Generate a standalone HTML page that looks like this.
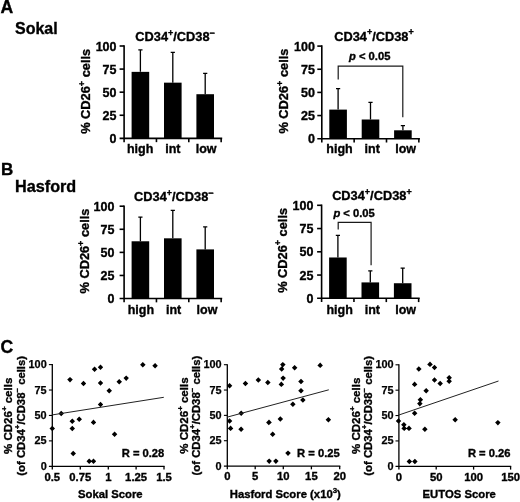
<!DOCTYPE html>
<html><head><meta charset="utf-8"><title>Figure</title>
<style>
html,body{margin:0;padding:0;background:#fff;}
svg{display:block;filter:blur(0.35px);}
text{font-family:"Liberation Sans", sans-serif;font-weight:bold;fill:#000;stroke:#000;stroke-width:0.35px;}
.t17{font-size:17px;}
.t176{font-size:17.6px;}
.t162{font-size:16.2px;}
.t16{font-size:16px;}
.t125{font-size:12.5px;}
.t128{font-size:12.8px;}
.t115{font-size:11.5px;}
.t112{font-size:11.2px;}
.t113{font-size:11.3px;}
.t109{font-size:10.9px;stroke-width:0.25px;}
</style></head>
<body>
<svg width="520" height="502" viewBox="0 0 520 502">
<rect width="520" height="502" fill="#fff"/>
<text x="0.5" y="13.4" class="t176">A</text>
<text x="15" y="33.8" class="t16">Sokal</text>
<text x="1" y="175.4" class="t17">B</text>
<text x="15.1" y="191.8" class="t162">Hasford</text>
<text x="0.5" y="353.2" class="t176">C</text>
<path d="M124.1,45.2 V142.15 M119.6,138.35 H222.2" stroke="#000" stroke-width="1.6" fill="none"/>
<path d="M119.6,46.00 H124.1" stroke="#000" stroke-width="1.6"/>
<text x="116.50" y="50.50" text-anchor="end" class="t125">100</text>
<path d="M119.6,69.09 H124.1" stroke="#000" stroke-width="1.6"/>
<text x="116.50" y="73.59" text-anchor="end" class="t125">75</text>
<path d="M119.6,92.17 H124.1" stroke="#000" stroke-width="1.6"/>
<text x="116.50" y="96.67" text-anchor="end" class="t125">50</text>
<path d="M119.6,115.26 H124.1" stroke="#000" stroke-width="1.6"/>
<text x="116.50" y="119.76" text-anchor="end" class="t125">25</text>
<text x="116.50" y="142.85" text-anchor="end" class="t125">0</text>
<path d="M156.45,138.35 V142.15" stroke="#000" stroke-width="1.6"/>
<path d="M188.80,138.35 V142.15" stroke="#000" stroke-width="1.6"/>
<path d="M221.15,138.35 V142.15" stroke="#000" stroke-width="1.6"/>
<rect x="131.60" y="71.86" width="17.6" height="66.49" fill="#000"/>
<path d="M140.40,71.86 V49.88 M138.30,49.88 H142.50" stroke="#000" stroke-width="1.3" fill="none"/>
<text x="140.10" y="153.05" text-anchor="middle" class="t125">high</text>
<rect x="164.00" y="82.66" width="17.6" height="55.69" fill="#000"/>
<path d="M172.80,82.66 V52.47 M170.70,52.47 H174.90" stroke="#000" stroke-width="1.3" fill="none"/>
<text x="172.80" y="153.05" text-anchor="middle" class="t125">int</text>
<rect x="196.40" y="94.21" width="17.6" height="44.14" fill="#000"/>
<path d="M205.20,94.21 V73.43 M203.10,73.43 H207.30" stroke="#000" stroke-width="1.3" fill="none"/>
<text x="206.20" y="153.05" text-anchor="middle" class="t125">low</text>
<text x="175.1" y="40.90" text-anchor="middle" class="t128">CD34<tspan dy="-5.4" font-size="9">+</tspan><tspan dy="5.4">/CD38</tspan><tspan dy="-5.4" font-size="9">−</tspan></text>
<text transform="translate(90.39999999999999,91.35) rotate(-90)" text-anchor="middle" class="t128">% CD26<tspan dy="-5.4" font-size="9">+</tspan><tspan dy="5.4"> cells</tspan></text>
<path d="M321.8,45.29999999999998 V142.5 M317.3,138.7 H419.90000000000003" stroke="#000" stroke-width="1.6" fill="none"/>
<path d="M317.3,46.10 H321.8" stroke="#000" stroke-width="1.6"/>
<text x="314.90" y="50.60" text-anchor="end" class="t125">100</text>
<path d="M317.3,69.25 H321.8" stroke="#000" stroke-width="1.6"/>
<text x="314.90" y="73.75" text-anchor="end" class="t125">75</text>
<path d="M317.3,92.40 H321.8" stroke="#000" stroke-width="1.6"/>
<text x="314.90" y="96.90" text-anchor="end" class="t125">50</text>
<path d="M317.3,115.55 H321.8" stroke="#000" stroke-width="1.6"/>
<text x="314.90" y="120.05" text-anchor="end" class="t125">25</text>
<text x="314.90" y="143.20" text-anchor="end" class="t125">0</text>
<path d="M354.15,138.7 V142.5" stroke="#000" stroke-width="1.6"/>
<path d="M386.50,138.7 V142.5" stroke="#000" stroke-width="1.6"/>
<path d="M418.85,138.7 V142.5" stroke="#000" stroke-width="1.6"/>
<rect x="329.30" y="109.60" width="17.6" height="29.10" fill="#000"/>
<path d="M338.10,109.60 V88.60 M336.00,88.60 H340.20" stroke="#000" stroke-width="1.3" fill="none"/>
<text x="339.50" y="153.40" text-anchor="middle" class="t125">high</text>
<rect x="361.70" y="119.50" width="17.6" height="19.20" fill="#000"/>
<path d="M370.50,119.50 V102.30 M368.40,102.30 H372.60" stroke="#000" stroke-width="1.3" fill="none"/>
<text x="372.20" y="153.40" text-anchor="middle" class="t125">int</text>
<rect x="394.10" y="130.30" width="17.6" height="8.40" fill="#000"/>
<path d="M402.90,130.30 V125.60 M400.80,125.60 H405.00" stroke="#000" stroke-width="1.3" fill="none"/>
<text x="405.60" y="153.40" text-anchor="middle" class="t125">low</text>
<text x="374.0" y="40.75" text-anchor="middle" class="t128">CD34<tspan dy="-5.4" font-size="9">+</tspan><tspan dy="5.4">/CD38</tspan><tspan dy="-5.4" font-size="9">+</tspan></text>
<text transform="translate(288.1,91.1) rotate(-90)" text-anchor="middle" class="t128">% CD26<tspan dy="-5.4" font-size="9">+</tspan><tspan dy="5.4"> cells</tspan></text>
<path d="M338.2,79.5 V66.1 H402.8 V117.2" stroke="#1a1a1a" stroke-width="1.2" fill="none"/>
<text x="349" y="60.4" class="t112"><tspan font-style="italic">p</tspan> &lt; 0.05</text>
<path d="M124.1,205.4 V302.35 M119.6,298.55 H222.2" stroke="#000" stroke-width="1.6" fill="none"/>
<path d="M119.6,206.20 H124.1" stroke="#000" stroke-width="1.6"/>
<text x="114.40" y="210.70" text-anchor="end" class="t125">100</text>
<path d="M119.6,229.29 H124.1" stroke="#000" stroke-width="1.6"/>
<text x="114.40" y="233.79" text-anchor="end" class="t125">75</text>
<path d="M119.6,252.38 H124.1" stroke="#000" stroke-width="1.6"/>
<text x="114.40" y="256.88" text-anchor="end" class="t125">50</text>
<path d="M119.6,275.46 H124.1" stroke="#000" stroke-width="1.6"/>
<text x="114.40" y="279.96" text-anchor="end" class="t125">25</text>
<text x="114.40" y="303.05" text-anchor="end" class="t125">0</text>
<path d="M156.45,298.55 V302.35" stroke="#000" stroke-width="1.6"/>
<path d="M188.80,298.55 V302.35" stroke="#000" stroke-width="1.6"/>
<path d="M221.15,298.55 V302.35" stroke="#000" stroke-width="1.6"/>
<rect x="131.60" y="241.28" width="17.6" height="57.27" fill="#000"/>
<path d="M140.40,241.28 V217.08 M138.30,217.08 H142.50" stroke="#000" stroke-width="1.3" fill="none"/>
<text x="140.90" y="313.55" text-anchor="middle" class="t125">high</text>
<rect x="164.00" y="238.32" width="17.6" height="60.23" fill="#000"/>
<path d="M172.80,238.32 V210.34 M170.70,210.34 H174.90" stroke="#000" stroke-width="1.3" fill="none"/>
<text x="173.60" y="313.55" text-anchor="middle" class="t125">int</text>
<rect x="196.40" y="249.40" width="17.6" height="49.15" fill="#000"/>
<path d="M205.20,249.40 V226.78 M203.10,226.78 H207.30" stroke="#000" stroke-width="1.3" fill="none"/>
<text x="207.00" y="313.55" text-anchor="middle" class="t125">low</text>
<text x="173.79999999999998" y="201.20" text-anchor="middle" class="t128">CD34<tspan dy="-5.4" font-size="9">+</tspan><tspan dy="5.4">/CD38</tspan><tspan dy="-5.4" font-size="9">−</tspan></text>
<text transform="translate(89.1,251.05) rotate(-90)" text-anchor="middle" class="t128">% CD26<tspan dy="-5.4" font-size="9">+</tspan><tspan dy="5.4"> cells</tspan></text>
<path d="M321.6,204.5 V302.1 M317.1,298.3 H419.70000000000005" stroke="#000" stroke-width="1.6" fill="none"/>
<path d="M317.1,205.30 H321.6" stroke="#000" stroke-width="1.6"/>
<text x="313.40" y="209.80" text-anchor="end" class="t125">100</text>
<path d="M317.1,228.55 H321.6" stroke="#000" stroke-width="1.6"/>
<text x="313.40" y="233.05" text-anchor="end" class="t125">75</text>
<path d="M317.1,251.80 H321.6" stroke="#000" stroke-width="1.6"/>
<text x="313.40" y="256.30" text-anchor="end" class="t125">50</text>
<path d="M317.1,275.05 H321.6" stroke="#000" stroke-width="1.6"/>
<text x="313.40" y="279.55" text-anchor="end" class="t125">25</text>
<text x="313.40" y="302.80" text-anchor="end" class="t125">0</text>
<path d="M353.95,298.3 V302.1" stroke="#000" stroke-width="1.6"/>
<path d="M386.30,298.3 V302.1" stroke="#000" stroke-width="1.6"/>
<path d="M418.65,298.3 V302.1" stroke="#000" stroke-width="1.6"/>
<rect x="329.10" y="257.48" width="17.6" height="40.82" fill="#000"/>
<path d="M337.90,257.48 V235.31 M335.80,235.31 H340.00" stroke="#000" stroke-width="1.3" fill="none"/>
<text x="339.60" y="313.60" text-anchor="middle" class="t125">high</text>
<rect x="361.50" y="282.41" width="17.6" height="15.89" fill="#000"/>
<path d="M370.30,282.41 V270.87 M368.20,270.87 H372.40" stroke="#000" stroke-width="1.3" fill="none"/>
<text x="372.30" y="313.60" text-anchor="middle" class="t125">int</text>
<rect x="393.90" y="283.24" width="17.6" height="15.06" fill="#000"/>
<path d="M402.70,283.24 V268.10 M400.60,268.10 H404.80" stroke="#000" stroke-width="1.3" fill="none"/>
<text x="405.70" y="313.60" text-anchor="middle" class="t125">low</text>
<text x="371.90000000000003" y="200.35" text-anchor="middle" class="t128">CD34<tspan dy="-5.4" font-size="9">+</tspan><tspan dy="5.4">/CD38</tspan><tspan dy="-5.4" font-size="9">+</tspan></text>
<text transform="translate(286.8,250.4) rotate(-90)" text-anchor="middle" class="t128">% CD26<tspan dy="-5.4" font-size="9">+</tspan><tspan dy="5.4"> cells</tspan></text>
<path d="M338.2,229.5 V222.3 H371.1 V265.3" stroke="#1a1a1a" stroke-width="1.2" fill="none"/>
<text x="333.4" y="216.8" class="t112"><tspan font-style="italic">p</tspan> &lt; 0.05</text>
<path d="M52.3,364.10 V469.6 M48.9,466.3 H164.6" stroke="#000" stroke-width="1.3" fill="none"/>
<path d="M48.9,364.60 H52.3" stroke="#000" stroke-width="1.1"/>
<text x="46.70" y="368.10" text-anchor="end" class="t109">100</text>
<path d="M48.9,390.03 H52.3" stroke="#000" stroke-width="1.1"/>
<text x="46.70" y="393.53" text-anchor="end" class="t109">75</text>
<path d="M48.9,415.45 H52.3" stroke="#000" stroke-width="1.1"/>
<text x="46.70" y="418.95" text-anchor="end" class="t109">50</text>
<path d="M48.9,440.88 H52.3" stroke="#000" stroke-width="1.1"/>
<text x="46.70" y="444.38" text-anchor="end" class="t109">25</text>
<text x="46.70" y="469.80" text-anchor="end" class="t109">0</text>
<text x="52.30" y="480.60" text-anchor="middle" class="t113">0.5</text>
<path d="M80.30,466.3 V469.6" stroke="#000" stroke-width="1.3"/>
<text x="80.30" y="480.60" text-anchor="middle" class="t113">0.75</text>
<path d="M108.30,466.3 V469.6" stroke="#000" stroke-width="1.3"/>
<text x="108.30" y="480.60" text-anchor="middle" class="t113">1</text>
<path d="M136.10,466.3 V469.6" stroke="#000" stroke-width="1.3"/>
<text x="136.10" y="480.60" text-anchor="middle" class="t113">1.25</text>
<path d="M164.00,466.3 V469.6" stroke="#000" stroke-width="1.3"/>
<text x="164.00" y="480.60" text-anchor="middle" class="t113">1.5</text>
<path d="M67.2,379.6 L70.0,376.9 L72.8,379.6 L70.0,382.4Z M80.8,383.5 L83.5,380.8 L86.2,383.5 L83.5,386.2Z M91.8,369.2 L94.6,366.4 L97.3,369.2 L94.6,371.9Z M97.8,367.3 L100.5,364.6 L103.2,367.3 L100.5,370.1Z M97.8,383.0 L100.5,380.2 L103.2,383.0 L100.5,385.8Z M116.5,381.8 L119.2,379.1 L122.0,381.8 L119.2,384.6Z M106.5,390.8 L109.2,388.1 L112.0,390.8 L109.2,393.6Z M97.8,404.5 L100.5,401.8 L103.2,404.5 L100.5,407.2Z M58.5,413.5 L61.2,410.8 L64.0,413.5 L61.2,416.2Z M69.5,421.2 L72.3,418.4 L75.0,421.2 L72.3,423.9Z M76.5,419.3 L79.2,416.6 L82.0,419.3 L79.2,422.1Z M90.8,422.4 L93.5,419.6 L96.2,422.4 L93.5,425.1Z M49.5,428.5 L52.3,425.8 L55.0,428.5 L52.3,431.2Z M69.5,428.5 L72.3,425.8 L75.0,428.5 L72.3,431.2Z M123.5,378.1 L126.2,375.4 L128.9,378.1 L126.2,380.9Z M140.1,364.7 L142.8,361.9 L145.6,364.7 L142.8,367.4Z M152.3,365.8 L155.1,363.1 L157.8,365.8 L155.1,368.6Z M111.8,434.2 L114.6,431.4 L117.3,434.2 L114.6,436.9Z M86.5,461.2 L89.2,458.4 L92.0,461.2 L89.2,463.9Z M90.8,461.2 L93.5,458.4 L96.2,461.2 L93.5,463.9Z M70.5,453.5 L73.2,450.8 L76.0,453.5 L73.2,456.2Z" fill="#000"/>
<path d="M52.3,414.9 L163.8,397.3" stroke="#222" stroke-width="1"/>
<text x="164.3" y="456.6" text-anchor="end" class="t112">R = 0.28</text>
<text x="110.3" y="498.0" text-anchor="middle" class="t113">Sokal Score</text>
<text transform="translate(12.199999999999996,415.8) rotate(-90)" text-anchor="middle" class="t115">% CD26<tspan dy="-5.1" font-size="7.9">+</tspan><tspan dy="5.1"> cells</tspan></text>
<text transform="translate(24.799999999999997,415.8) rotate(-90)" text-anchor="middle" class="t113">(of CD34<tspan dy="-5.1" font-size="7.9">+</tspan><tspan dy="5.1">/CD38</tspan><tspan dy="-5.1" font-size="7.9">−</tspan><tspan dy="5.1"> cells)</tspan></text>
<path d="M227.3,364.20 V469.35 M223.9,466.05 H340.3" stroke="#000" stroke-width="1.3" fill="none"/>
<path d="M223.9,364.70 H227.3" stroke="#000" stroke-width="1.1"/>
<text x="221.60" y="368.20" text-anchor="end" class="t109">100</text>
<path d="M223.9,390.04 H227.3" stroke="#000" stroke-width="1.1"/>
<text x="221.60" y="393.54" text-anchor="end" class="t109">75</text>
<path d="M223.9,415.38 H227.3" stroke="#000" stroke-width="1.1"/>
<text x="221.60" y="418.88" text-anchor="end" class="t109">50</text>
<path d="M223.9,440.71 H227.3" stroke="#000" stroke-width="1.1"/>
<text x="221.60" y="444.21" text-anchor="end" class="t109">25</text>
<text x="221.60" y="469.55" text-anchor="end" class="t109">0</text>
<text x="227.30" y="480.35" text-anchor="middle" class="t113">0</text>
<path d="M255.20,466.05 V469.35" stroke="#000" stroke-width="1.3"/>
<text x="255.20" y="480.35" text-anchor="middle" class="t113">5</text>
<path d="M283.30,466.05 V469.35" stroke="#000" stroke-width="1.3"/>
<text x="283.30" y="480.35" text-anchor="middle" class="t113">10</text>
<path d="M311.40,466.05 V469.35" stroke="#000" stroke-width="1.3"/>
<text x="311.40" y="480.35" text-anchor="middle" class="t113">15</text>
<path d="M339.70,466.05 V469.35" stroke="#000" stroke-width="1.3"/>
<text x="339.70" y="480.35" text-anchor="middle" class="t113">20</text>
<path d="M226.8,385.8 L229.6,383.1 L232.3,385.8 L229.6,388.6Z M242.7,383.5 L245.4,380.8 L248.2,383.5 L245.4,386.2Z M255.6,380.0 L258.3,377.2 L261.1,380.0 L258.3,382.8Z M265.1,382.5 L267.8,379.8 L270.6,382.5 L267.8,385.2Z M238.4,413.3 L241.2,410.6 L243.9,413.3 L241.2,416.1Z M226.8,421.0 L229.6,418.2 L232.3,421.0 L229.6,423.8Z M227.8,428.4 L230.6,425.6 L233.3,428.4 L230.6,431.1Z M238.3,429.3 L241.1,426.6 L243.8,429.3 L241.1,432.1Z M266.2,422.4 L269.0,419.6 L271.8,422.4 L269.0,425.1Z M280.1,364.6 L282.8,361.9 L285.6,364.6 L282.8,367.4Z M278.9,369.0 L281.7,366.2 L284.4,369.0 L281.7,371.8Z M291.9,367.7 L294.6,364.9 L297.4,367.7 L294.6,370.4Z M317.4,365.4 L320.2,362.6 L322.9,365.4 L320.2,368.1Z M280.4,378.1 L283.1,375.4 L285.9,378.1 L283.1,380.9Z M278.6,384.4 L281.3,381.6 L284.1,384.4 L281.3,387.1Z M298.2,381.5 L301.0,378.8 L303.8,381.5 L301.0,384.2Z M298.2,390.8 L301.0,388.1 L303.8,390.8 L301.0,393.6Z M300.1,400.0 L302.9,397.2 L305.6,400.0 L302.9,402.8Z M290.1,404.2 L292.9,401.4 L295.6,404.2 L292.9,406.9Z M266.1,422.5 L268.8,419.8 L271.6,422.5 L268.8,425.2Z M277.6,419.0 L280.3,416.2 L283.1,419.0 L280.3,421.8Z M325.6,419.7 L328.4,416.9 L331.1,419.7 L328.4,422.4Z M269.9,434.3 L272.7,431.6 L275.4,434.3 L272.7,437.1Z M285.2,453.1 L288.0,450.4 L290.8,453.1 L288.0,455.9Z M266.4,461.1 L269.2,458.4 L271.9,461.1 L269.2,463.9Z M273.1,461.1 L275.9,458.4 L278.6,461.1 L275.9,463.9Z" fill="#000"/>
<path d="M227.3,417.1 L328.8,389.8" stroke="#222" stroke-width="1"/>
<text x="339.7" y="456.6" text-anchor="end" class="t112">R = 0.25</text>
<text x="285.3" y="498.0" text-anchor="middle" class="t113">Hasford Score (x10<tspan dy="-5.1" font-size="7.9">3</tspan><tspan dy="5.1">)</tspan></text>
<text transform="translate(187.9,415.55) rotate(-90)" text-anchor="middle" class="t115">% CD26<tspan dy="-5.1" font-size="7.9">+</tspan><tspan dy="5.1"> cells</tspan></text>
<text transform="translate(200.4,415.55) rotate(-90)" text-anchor="middle" class="t113">(of CD34<tspan dy="-5.1" font-size="7.9">+</tspan><tspan dy="5.1">/CD38</tspan><tspan dy="-5.1" font-size="7.9">−</tspan><tspan dy="5.1"> cells)</tspan></text>
<path d="M398.9,364.30 V469.6 M395.5,466.3 H511.20000000000005" stroke="#000" stroke-width="1.3" fill="none"/>
<path d="M395.5,364.80 H398.9" stroke="#000" stroke-width="1.1"/>
<text x="393.60" y="368.30" text-anchor="end" class="t109">100</text>
<path d="M395.5,390.18 H398.9" stroke="#000" stroke-width="1.1"/>
<text x="393.60" y="393.68" text-anchor="end" class="t109">75</text>
<path d="M395.5,415.55 H398.9" stroke="#000" stroke-width="1.1"/>
<text x="393.60" y="419.05" text-anchor="end" class="t109">50</text>
<path d="M395.5,440.93 H398.9" stroke="#000" stroke-width="1.1"/>
<text x="393.60" y="444.43" text-anchor="end" class="t109">25</text>
<text x="393.60" y="469.80" text-anchor="end" class="t109">0</text>
<text x="398.90" y="480.60" text-anchor="middle" class="t113">0</text>
<path d="M436.20,466.3 V469.6" stroke="#000" stroke-width="1.3"/>
<text x="436.20" y="480.60" text-anchor="middle" class="t113">50</text>
<path d="M473.60,466.3 V469.6" stroke="#000" stroke-width="1.3"/>
<text x="473.60" y="480.60" text-anchor="middle" class="t113">100</text>
<path d="M510.60,466.3 V469.6" stroke="#000" stroke-width="1.3"/>
<text x="510.60" y="480.60" text-anchor="middle" class="t113">150</text>
<path d="M416.1,369.0 L418.8,366.2 L421.6,369.0 L418.8,371.8Z M427.2,364.4 L430.0,361.6 L432.8,364.4 L430.0,367.1Z M431.8,367.5 L434.5,364.8 L437.2,367.5 L434.5,370.2Z M431.8,380.0 L434.5,377.2 L437.2,380.0 L434.5,382.8Z M411.9,384.4 L414.6,381.6 L417.4,384.4 L414.6,387.1Z M423.4,390.8 L426.2,388.1 L428.9,390.8 L426.2,393.6Z M417.6,399.8 L420.4,397.1 L423.1,399.8 L420.4,402.6Z M417.1,403.6 L419.8,400.9 L422.6,403.6 L419.8,406.4Z M411.9,413.3 L414.6,410.6 L417.4,413.3 L414.6,416.1Z M395.8,421.0 L398.5,418.2 L401.2,421.0 L398.5,423.8Z M401.1,424.7 L403.9,421.9 L406.6,424.7 L403.9,427.4Z M401.4,428.4 L404.2,425.6 L406.9,428.4 L404.2,431.1Z M406.2,428.4 L409.0,425.6 L411.8,428.4 L409.0,431.1Z M422.1,429.3 L424.9,426.6 L427.6,429.3 L424.9,432.1Z M437.4,383.5 L440.2,380.8 L442.9,383.5 L440.2,386.2Z M446.4,377.7 L449.2,374.9 L451.9,377.7 L449.2,380.4Z M446.4,381.2 L449.2,378.4 L451.9,381.2 L449.2,383.9Z M452.4,419.7 L455.2,416.9 L457.9,419.7 L455.2,422.4Z M495.1,422.6 L497.9,419.9 L500.6,422.6 L497.9,425.4Z M406.6,461.5 L409.3,458.8 L412.1,461.5 L409.3,464.2Z M412.1,461.5 L414.9,458.8 L417.6,461.5 L414.9,464.2Z" fill="#000"/>
<path d="M398.9,415.0 L498.5,381" stroke="#222" stroke-width="1"/>
<text x="510.5" y="456.6" text-anchor="end" class="t112">R = 0.26</text>
<text x="459.2" y="498.0" text-anchor="middle" class="t113">EUTOS Score</text>
<text transform="translate(359.9,415.8) rotate(-90)" text-anchor="middle" class="t115">% CD26<tspan dy="-5.1" font-size="7.9">+</tspan><tspan dy="5.1"> cells</tspan></text>
<text transform="translate(372.29999999999995,415.8) rotate(-90)" text-anchor="middle" class="t113">(of CD34<tspan dy="-5.1" font-size="7.9">+</tspan><tspan dy="5.1">/CD38</tspan><tspan dy="-5.1" font-size="7.9">−</tspan><tspan dy="5.1"> cells)</tspan></text>
</svg>
</body></html>
